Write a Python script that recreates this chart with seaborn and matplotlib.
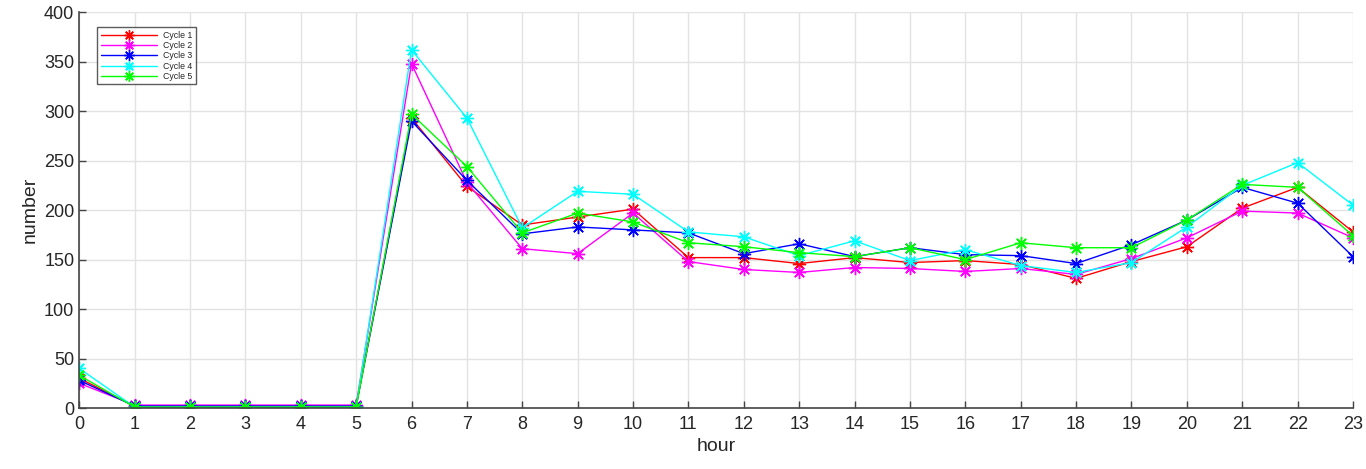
import pandas as pd
import matplotlib.pyplot as plt
import seaborn as sns

sns.set_theme(style="whitegrid")
plt.rcParams['font.family'] = ['Liberation Sans', 'DejaVu Sans']

hours = list(range(24))
cycle1 = [30, 2, 2, 2, 2, 2, 293, 224, 185, 193, 201, 152, 152, 146, 152, 147, 149, 145, 131, 148, 163, 202, 223, 178]
cycle2 = [25, 3, 3, 3, 3, 3, 348, 228, 161, 156, 197, 148, 140, 137, 142, 141, 138, 141, 135, 151, 172, 199, 197, 172]
cycle3 = [28, 2, 2, 2, 2, 2, 290, 230, 176, 183, 180, 177, 156, 166, 153, 162, 155, 154, 146, 165, 190, 223, 207, 153]
cycle4 = [40, 1, 1, 1, 1, 1, 362, 293, 182, 219, 216, 178, 173, 154, 169, 149, 160, 144, 137, 147, 183, 225, 248, 205]
cycle5 = [33, 1, 1, 1, 1, 1, 297, 244, 177, 197, 188, 167, 163, 157, 153, 162, 150, 167, 162, 162, 190, 226, 223, 174]

names = ["Cycle 1", "Cycle 2", "Cycle 3", "Cycle 4", "Cycle 5"]
colors = ["#ff0000", "#ff00ff", "#0000ff", "#00ffff", "#00ff00"]

df = pd.DataFrame({"hour": hours, "Cycle 1": cycle1, "Cycle 2": cycle2,
                   "Cycle 3": cycle3, "Cycle 4": cycle4, "Cycle 5": cycle5})
long = df.melt(id_vars="hour", var_name="cycle", value_name="number")

fig = plt.figure(figsize=(13.66, 4.69), dpi=100)
ax = fig.add_axes([0.058, 0.130, 0.9325, 0.844])

# matlab style asterisk marker
for name, color in zip(names, colors):
    sns.lineplot(data=long[long["cycle"] == name], x="hour", y="number",
                 color=color, marker=(8, 2, 0), markersize=9.5, markeredgecolor=color,
                 markeredgewidth=1.0, linewidth=1.0, label=name, ax=ax)

ax.set_xlim(0, 23)
ax.set_ylim(0, 400)
ax.set_xticks(hours)
ax.set_yticks(range(0, 401, 50))
ax.grid(True, color="#e3e3e3", linewidth=1.0)
for s in ax.spines.values():
    s.set_color("#444444")
    s.set_linewidth(1.2)
ax.spines["top"].set_visible(False)
ax.spines["right"].set_visible(False)
ax.tick_params(axis="both", direction="in", length=5, width=1, colors="#444444",
               labelsize=13, labelcolor="#262626", bottom=True, left=True)
ax.tick_params(axis="x", pad=6)
ax.set_xlabel("hour", fontsize=14, color="#262626", labelpad=3)
ax.set_ylabel("number", fontsize=14, color="#262626", labelpad=4)

leg = ax.legend(loc="upper left", bbox_to_anchor=(0.014, 0.962), borderaxespad=0,
                fontsize=6.3, frameon=True, fancybox=False, edgecolor="#333333",
                handlelength=6.5, labelspacing=0.15, borderpad=0.4, markerscale=0.8,
                handletextpad=0.6)
leg.get_frame().set_linewidth(1.0)

fig.savefig("out.png", dpi=100)
